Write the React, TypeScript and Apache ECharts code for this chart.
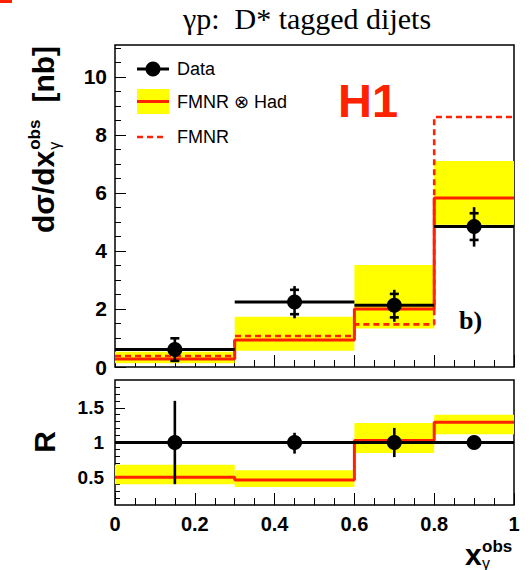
import React, { useEffect, useRef } from 'react';
import * as echarts from 'echarts';

// ---------- data ----------
const binEdges = [0, 0.3, 0.6, 0.8, 1.0];
const binCenters = [0.15, 0.45, 0.7, 0.9];

// top panel: dsigma/dx
const dataXsec = [0.6, 2.24, 2.13, 4.84];
const dataTotLo = [0.21, 1.68, 1.56, 4.15];
const dataTotHi = [0.99, 2.79, 2.66, 5.51];
const dataStatLo = [0.21, 1.82, 1.71, 4.38];
const dataStatHi = [0.99, 2.66, 2.52, 5.3];
const fmnrHad = [0.28, 0.93, 2.0, 5.83];
const fmnrHadLo = [0.13, 0.56, 1.33, 4.9];
const fmnrHadHi = [0.53, 1.73, 3.52, 7.1];
const fmnr = [0.38, 1.07, 1.47, 8.62];

// bottom panel: ratio R
const ratioData = [1, 1, 1, 1];
const ratioErrLo = [0.4, 0.84, 0.79, 0.97];
const ratioErrHi = [1.6, 1.14, 1.21, 1.03];
const ratioTheory = [0.5, 0.46, 1.03, 1.29];
const ratioTheoryLo = [0.4, 0.36, 0.85, 1.12];
const ratioTheoryHi = [0.68, 0.6, 1.28, 1.4];
const ratioRef = 1;

// ticks
const topYMajor = [0, 2, 4, 6, 8, 10];
const topYMinor = [0.5, 1, 1.5, 2.5, 3, 3.5, 4.5, 5, 5.5, 6.5, 7, 7.5, 8.5, 9, 9.5, 10.5, 11];
const ratioYMajor = [0.5, 1, 1.5];
const ratioYMinor = [0.2, 0.3, 0.4, 0.6, 0.7, 0.8, 0.9, 1.1, 1.2, 1.3, 1.4, 1.6, 1.7, 1.8];

// ---------- helpers ----------
const FONT = '"Liberation Sans", Arial, Helvetica, sans-serif';
const SERIF = '"Liberation Serif", "Times New Roman", serif';
const RED = '#ff2200';
const YELLOW = '#ffff00';

function stepPoints(edges: number[], vals: number[]) {
  const pts: number[][] = [];
  vals.forEach((v, i) => {
    pts.push([edges[i], v]);
    pts.push([edges[i + 1], v]);
  });
  return pts;
}

function textWidth(text: string, font: string) {
  const c = document.createElement('canvas').getContext('2d');
  if (!c) return text.length * 10;
  c.font = font;
  return c.measureText(text).width;
}

function bandSeries(xi: number, yi: number, lo: number[], hi: number[]) {
  return {
    type: 'custom',
    xAxisIndex: xi,
    yAxisIndex: yi,
    silent: true,
    z: 2,
    data: lo.map((l, i) => [binEdges[i], binEdges[i + 1], l, hi[i]]),
    renderItem: (params: any, api: any) => {
      const p1 = api.coord([api.value(0), api.value(3)]);
      const p2 = api.coord([api.value(1), api.value(2)]);
      return {
        type: 'rect',
        shape: { x: p1[0], y: p1[1], width: p2[0] - p1[0], height: p2[1] - p1[1] },
        style: { fill: YELLOW },
      };
    },
  };
}

function errorSeries(xi: number, yi: number, lo: number[], hi: number[], sLo: number[] | null, sHi: number[] | null) {
  return {
    type: 'custom',
    xAxisIndex: xi,
    yAxisIndex: yi,
    silent: true,
    z: 6,
    data: lo.map((l, i) => [binCenters[i], l, hi[i], sLo ? sLo[i] : l, sHi ? sHi[i] : hi[i]]),
    renderItem: (params: any, api: any) => {
      const x = api.value(0);
      const top = api.coord([x, api.value(2)]);
      const bot = api.coord([x, api.value(1)]);
      const st = api.coord([x, api.value(4)]);
      const sb = api.coord([x, api.value(3)]);
      const ls = { stroke: '#000', lineWidth: 2.6 };
      const children: any[] = [
        { type: 'line', shape: { x1: top[0], y1: top[1], x2: bot[0], y2: bot[1] }, style: ls },
      ];
      if (sLo) {
        const hw = 4.5;
        children.push({ type: 'line', shape: { x1: st[0] - hw, y1: st[1], x2: st[0] + hw, y2: st[1] }, style: ls });
        children.push({ type: 'line', shape: { x1: sb[0] - hw, y1: sb[1], x2: sb[0] + hw, y2: sb[1] }, style: ls });
      }
      return { type: 'group', children };
    },
  };
}

function axisX(gridIndex: number, showLabel: boolean) {
  return {
    gridIndex,
    type: 'value',
    min: 0,
    max: 1,
    interval: 0.2,
    axisLine: { show: false },
    axisTick: { show: true, inside: true, length: 12, lineStyle: { color: '#000', width: 1 } },
    minorTick: { show: true, splitNumber: 4, length: 7, lineStyle: { color: '#000', width: 1 } },
    splitLine: { show: false },
    minorSplitLine: { show: false },
    axisLabel: {
      show: showLabel,
      fontSize: 20,
      fontWeight: 'bold',
      fontFamily: FONT,
      color: '#000',
      margin: 9,
      formatter: (v: number) => String(+v.toFixed(2)),
    },
  };
}

function axisY(gridIndex: number, min: number, max: number, ticks: number[], len: number, labels: boolean, fontSize: number, margin: number) {
  return {
    gridIndex,
    type: 'value',
    position: 'left',
    min,
    max,
    axisLine: { show: false },
    splitLine: { show: false },
    axisTick: { show: true, inside: true, length: len, customValues: ticks, lineStyle: { color: '#000', width: 1 } },
    axisLabel: labels
      ? {
          show: true,
          customValues: ticks,
          fontSize,
          fontWeight: 'bold',
          fontFamily: FONT,
          color: '#000',
          margin,
          formatter: (v: number) => String(+v.toFixed(2)),
        }
      : { show: false },
  };
}

export default function App() {
  const ref = useRef<HTMLDivElement>(null);

  useEffect(() => {
    if (!ref.current) return;
    const chart = echarts.init(ref.current, undefined, { renderer: 'svg' });

    const f30 = `bold 30px ${FONT}`;
    const f17 = `bold 17px ${FONT}`;
    const w1 = textWidth('dσ/dx', f30);
    const wObs = textWidth('obs', f17);

    const option: any = {
      animation: false,
      backgroundColor: '#fff',
      grid: [
        { left: 115, top: 45, width: 399, height: 322, show: true, borderColor: '#000', borderWidth: 1.5, backgroundColor: 'transparent' },
        { left: 115, top: 380, width: 399, height: 125, show: true, borderColor: '#000', borderWidth: 1.5, backgroundColor: 'transparent' },
      ],
      xAxis: [axisX(0, false), axisX(1, true)],
      yAxis: [
        axisY(0, 0, 11.1, topYMajor, 11, true, 21, 8),
        axisY(0, 0, 11.1, topYMinor, 6, false, 0, 0),
        axisY(1, 0.1, 1.9, ratioYMajor, 10, true, 19, 11),
        axisY(1, 0.1, 1.9, ratioYMinor, 5, false, 0, 0),
      ],
      series: [
        // ---- top panel ----
        bandSeries(0, 0, fmnrHadLo, fmnrHadHi),
        {
          type: 'line',
          xAxisIndex: 0,
          yAxisIndex: 0,
          data: stepPoints(binEdges, fmnr),
          symbol: 'none',
          silent: true,
          z: 3,
          lineStyle: { color: RED, width: 2.6, type: [6, 4] },
        },
        {
          type: 'line',
          xAxisIndex: 0,
          yAxisIndex: 0,
          data: stepPoints(binEdges, fmnrHad),
          symbol: 'none',
          silent: true,
          z: 4,
          lineStyle: { color: RED, width: 3 },
        },
        {
          type: 'custom',
          xAxisIndex: 0,
          yAxisIndex: 0,
          silent: true,
          z: 5,
          data: dataXsec.map((v, i) => [binEdges[i], binEdges[i + 1], v]),
          renderItem: (params: any, api: any) => {
            const a = api.coord([api.value(0), api.value(2)]);
            const b = api.coord([api.value(1), api.value(2)]);
            return { type: 'line', shape: { x1: a[0], y1: a[1], x2: b[0], y2: b[1] }, style: { stroke: '#000', lineWidth: 3 } };
          },
        },
        errorSeries(0, 0, dataTotLo, dataTotHi, dataStatLo, dataStatHi),
        {
          type: 'scatter',
          xAxisIndex: 0,
          yAxisIndex: 0,
          data: dataXsec.map((v, i) => [binCenters[i], v]),
          symbol: 'circle',
          symbolSize: 15,
          itemStyle: { color: '#000', opacity: 1 },
          silent: true,
          z: 7,
        },
        // ---- bottom panel ----
        bandSeries(1, 2, ratioTheoryLo, ratioTheoryHi),
        {
          type: 'line',
          xAxisIndex: 1,
          yAxisIndex: 2,
          data: stepPoints(binEdges, ratioTheory),
          symbol: 'none',
          silent: true,
          z: 4,
          lineStyle: { color: RED, width: 3 },
        },
        {
          type: 'line',
          xAxisIndex: 1,
          yAxisIndex: 2,
          data: [
            [binEdges[0], ratioRef],
            [binEdges[binEdges.length - 1], ratioRef],
          ],
          symbol: 'none',
          silent: true,
          z: 5,
          lineStyle: { color: '#000', width: 3 },
        },
        errorSeries(1, 2, ratioErrLo, ratioErrHi, null, null),
        {
          type: 'scatter',
          xAxisIndex: 1,
          yAxisIndex: 2,
          data: ratioData.map((v, i) => [binCenters[i], v]),
          symbol: 'circle',
          symbolSize: 15,
          itemStyle: { color: '#000', opacity: 1 },
          silent: true,
          z: 7,
        },
      ],
      graphic: [
        { type: 'rect', shape: { x: 0, y: 0, width: 12, height: 3 }, style: { fill: RED } },
        {
          type: 'text',
          x: 307,
          y: 18,
          style: { text: 'γp:  D* tagged dijets', font: `30px ${SERIF}`, fill: '#000', textAlign: 'center', textVerticalAlign: 'middle' },
        },
        // legend
        { type: 'line', shape: { x1: 137, y1: 69, x2: 169, y2: 69 }, style: { stroke: '#000', lineWidth: 3 } },
        { type: 'circle', shape: { cx: 153, cy: 69, r: 7.5 }, style: { fill: '#000' } },
        { type: 'text', x: 177, y: 69, style: { text: 'Data', font: `18px ${FONT}`, fill: '#000', textAlign: 'left', textVerticalAlign: 'middle' } },
        { type: 'rect', shape: { x: 137, y: 89, width: 32, height: 25 }, style: { fill: YELLOW } },
        { type: 'line', shape: { x1: 137, y1: 101.5, x2: 169, y2: 101.5 }, style: { stroke: RED, lineWidth: 3 } },
        { type: 'text', x: 177, y: 101.5, style: { text: 'FMNR ⊗ Had', font: `18px ${FONT}`, fill: '#000', textAlign: 'left', textVerticalAlign: 'middle' } },
        { type: 'line', shape: { x1: 137, y1: 137, x2: 166, y2: 137 }, style: { stroke: RED, lineWidth: 2.6, lineDash: [6, 4] } },
        { type: 'text', x: 177, y: 137, style: { text: 'FMNR', font: `18px ${FONT}`, fill: '#000', textAlign: 'left', textVerticalAlign: 'middle' } },
        // H1
        { type: 'text', x: 338, y: 100, style: { text: 'H1', font: `bold 47px ${FONT}`, fill: RED, textAlign: 'left', textVerticalAlign: 'middle' } },
        // b)
        { type: 'text', x: 459, y: 320, style: { text: 'b)', font: `bold 26px ${SERIF}`, fill: '#000', textAlign: 'left', textVerticalAlign: 'middle' } },
        // y title top
        {
          type: 'group',
          x: 43,
          y: 233,
          rotation: Math.PI / 2,
          children: [
            { type: 'text', x: 0, y: 0, style: { text: 'dσ/dx', font: f30, fill: '#000', textAlign: 'left', textVerticalAlign: 'middle' } },
            { type: 'text', x: w1 + 1, y: -8.5, style: { text: 'obs', font: f17, fill: '#000', textAlign: 'left', textVerticalAlign: 'middle' } },
            { type: 'text', x: w1 + 1, y: 11.5, style: { text: 'γ', font: `16px ${FONT}`, fill: '#000', textAlign: 'left', textVerticalAlign: 'middle' } },
            { type: 'text', x: w1 + 1 + wObs + 17, y: 0, style: { text: '[nb]', font: f30, fill: '#000', textAlign: 'left', textVerticalAlign: 'middle' } },
          ],
        },
        // R label
        {
          type: 'text',
          x: 44.5,
          y: 442,
          rotation: Math.PI / 2,
          style: { text: 'R', font: `bold 30px ${FONT}`, fill: '#000', textAlign: 'center', textVerticalAlign: 'middle' },
        },
        // x title
        { type: 'text', x: 465, y: 554.5, style: { text: 'x', font: f30, fill: '#000', textAlign: 'left', textVerticalAlign: 'middle' } },
        { type: 'text', x: 482, y: 546, style: { text: 'obs', font: f17, fill: '#000', textAlign: 'left', textVerticalAlign: 'middle' } },
        { type: 'text', x: 482, y: 563, style: { text: 'γ', font: `16px ${FONT}`, fill: '#000', textAlign: 'left', textVerticalAlign: 'middle' } },
      ],
    };

    chart.setOption(option);
    return () => chart.dispose();
  }, []);

  return <div ref={ref} style={{ width: 531, height: 570, position: 'absolute', left: 0, top: 0 }} />;
}
